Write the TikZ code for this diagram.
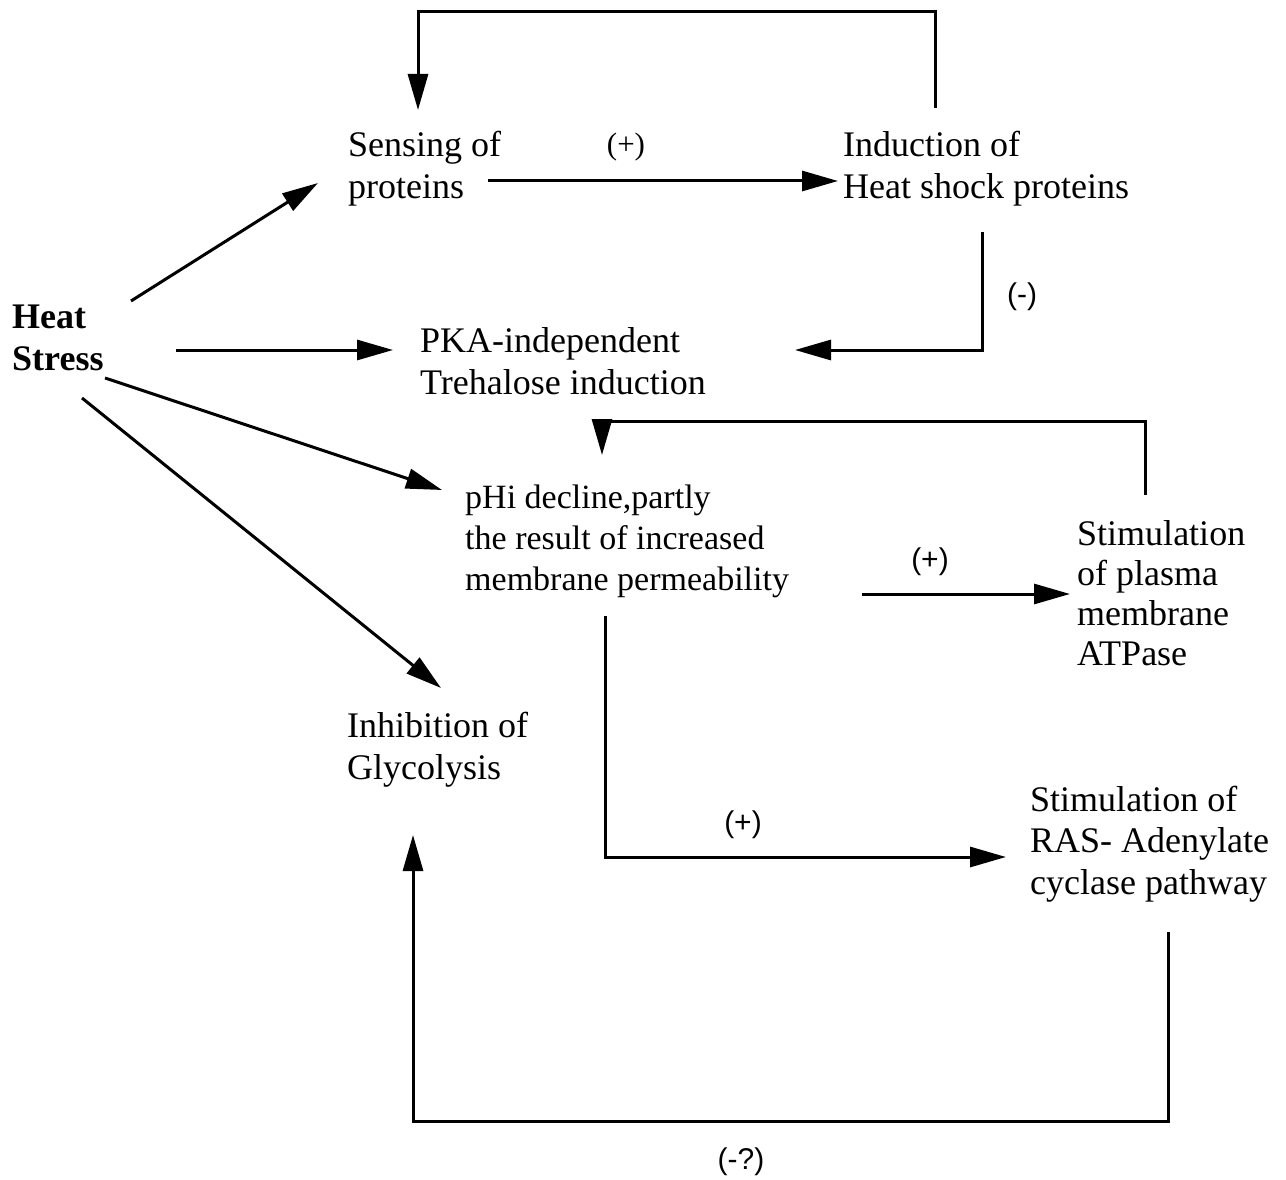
\documentclass[tikz,border=0pt]{standalone}
\usepackage{fontspec}
\setmainfont{Liberation Serif}
\newfontfamily\labsans{Liberation Sans}
\usetikzlibrary{arrows.meta}
\begin{document}
\begin{tikzpicture}[x=1pt,y=-1pt,
  txt/.style={anchor=base west,inner sep=0pt,font=\fontsize{36}{42}\selectfont},
  lab/.style={anchor=center,inner sep=0pt,font=\fontsize{30}{34}\labsans},
  labserif/.style={anchor=center,inner sep=0pt,font=\fontsize{31}{34}\selectfont},
  conn/.style={line width=3pt,line join=miter,-{Triangle[length=36pt,width=20pt]}},
  ]
\useasboundingbox (0,0) rectangle (1286,1180);
% texts
\node[txt] (sens) at (348,157) {\begin{tabular}[t]{@{}l@{}}Sensing of\\proteins\end{tabular}};
\node[txt] (ind) at (843,157) {\begin{tabular}[t]{@{}l@{}}Induction of\\Heat shock proteins\end{tabular}};
\node[txt] (heat) at (12,328) {\bfseries\begin{tabular}[t]{@{}l@{}}Heat\\Stress\end{tabular}};
\node[txt] (pka) at (420,352) {\begin{tabular}[t]{@{}l@{}}PKA-independent\\Trehalose induction\end{tabular}};
\node[txt] (phi) at (465,508) {\fontsize{34}{41}\selectfont\begin{tabular}[t]{@{}l@{}}pHi decline,partly\\the result of increased\\membrane permeability\end{tabular}};
\node[txt] (atp) at (1077,545) {\fontsize{36}{40}\selectfont\begin{tabular}[t]{@{}l@{}}Stimulation\\of plasma\\membrane\\ATPase\end{tabular}};
\node[txt] (inh) at (347,737) {\begin{tabular}[t]{@{}l@{}}Inhibition of\\Glycolysis\end{tabular}};
\node[txt] (ras) at (1030,811) {\fontsize{36}{41.5}\selectfont\begin{tabular}[t]{@{}l@{}}Stimulation of\\RAS- Adenylate\\cyclase pathway\end{tabular}};
% labels
\node[labserif] (l1) at (626,147) {(+)};
\node[lab] (l2) at (1022,297) {(-)};
\node[lab] (l3) at (930,562) {(+)};
\node[lab] (l4) at (743,825) {(+)};
\node[lab] (l5) at (741,1162) {(-?)};
% connector end points
\coordinate (a1) at (935,108); \coordinate (a2) at (418,110);
\coordinate (b1) at (488,181); \coordinate (b2) at (838,181);
\coordinate (c1) at (131,301); \coordinate (c2) at (318,183);
\coordinate (d1) at (176,350); \coordinate (d2) at (393,350);
\coordinate (e1) at (982,232); \coordinate (e2) at (795,350);
\coordinate (f1) at (105,378); \coordinate (f2) at (442,490);
\coordinate (g1) at (82,398);  \coordinate (g2) at (441,688);
\coordinate (h1) at (1145,495); \coordinate (h2) at (602,455);
\coordinate (i1) at (862,594); \coordinate (i2) at (1070,594);
\coordinate (j1) at (605,616); \coordinate (j2) at (1006,857);
\coordinate (k1) at (1168,932); \coordinate (k2) at (413,835);
% connectors
\draw[conn] (a1) -- (935,12) -| (a2);
\draw[conn] (b1) -- (b2);
\draw[conn] (c1) -- (c2);
\draw[conn] (d1) -- (d2);
\draw[conn] (e1) |- (e2);
\draw[conn] (f1) -- (f2);
\draw[conn] (g1) -- (g2);
\draw[conn] (h1) -- (1145,421) -| (h2);
\draw[conn] (i1) -- (i2);
\draw[conn] (j1) |- (j2);
\draw[conn] (k1) -- (1168,1121) -| (k2);
\end{tikzpicture}
\end{document}
